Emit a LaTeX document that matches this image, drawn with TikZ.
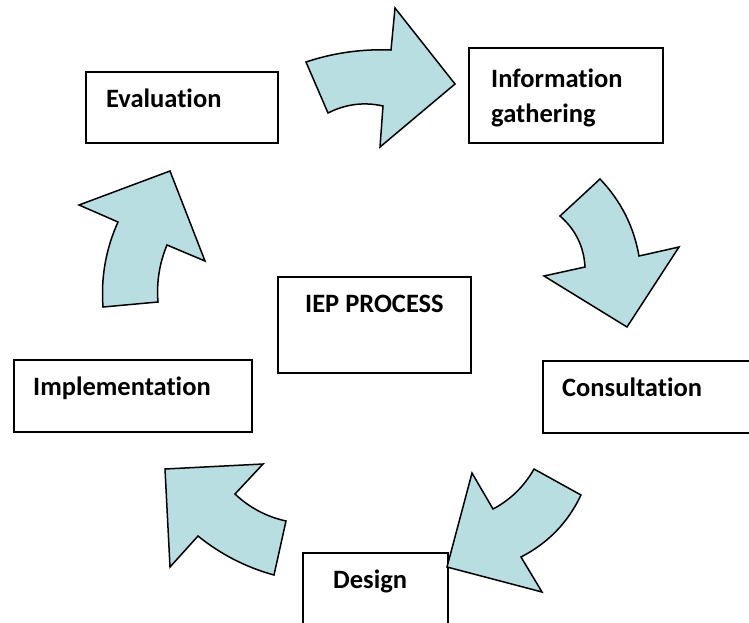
\documentclass[tikz,border=0pt]{standalone}
\usepackage{fontspec}
\setmainfont{Carlito}[Ligatures=NoCommon]
\definecolor{arrowfill}{RGB}{184,222,226}
\begin{document}
\begin{tikzpicture}[x=1pt,y=-1pt,
  box/.style={draw=black,line width=1.7pt,fill=white,inner sep=0pt,anchor=north west},
  lbl/.style={inner sep=0pt,anchor=base west,align=left,
    font=\fontsize{26.5}{35}\selectfont\bfseries},
  blockarrow/.style={fill=arrowfill,draw=black,line width=1.5pt,line join=miter}]
\useasboundingbox (0,0) rectangle (749,622);
\clip (0,0) rectangle (749,622);

% boxes
\node[box,minimum width=192pt,minimum height=71pt] (evalbox) at (85,71) {};
\node[box,minimum width=194pt,minimum height=95pt] (infobox) at (468,47) {};
\node[box,minimum width=193pt,minimum height=96pt] (iepbox) at (277,276) {};
\node[box,minimum width=238pt,minimum height=72pt] (implbox) at (13,359) {};
\node[box,minimum width=240pt,minimum height=72pt] (consbox) at (542,360) {};
\node[box,minimum width=145pt,minimum height=90pt] (desbox) at (302,552) {};

% labels (a two-line label is anchored at the baseline of its last line)
\node[lbl] (evaltext) at (106,107) {Evaluation};
\node[lbl] (infotext) at (491,122) {Information\\gathering};
\node[lbl] (ieptext) at (305,312) {IEP PROCESS};
\node[lbl] (impltext) at (33,395) {Implementation};
\node[lbl] (constext) at (562,396) {Consultation};
\node[lbl] (destext) at (333,588) {Design};

% curved block arrows around the cycle
\draw[blockarrow] (306,62) .. controls (333.6,52.8) and (362,48.8) .. (391,50)
  -- (395,8) -- (455,84) -- (380,147) -- (383,106)
  .. controls (363.9,101.7) and (345.5,104.1) .. (328,113) -- cycle;
\draw[blockarrow] (600,179) .. controls (620.8,200.8) and (633.8,226.4) .. (639,256)
  -- (679,247) -- (627,327) -- (544,276) -- (585,267)
  .. controls (583.9,246.5) and (575.5,229.5) .. (560,216) -- cycle;
\draw[blockarrow] (534,469) -- (581,495)
  .. controls (568,522.5) and (548,543.1) .. (521,557)
  -- (542,592) -- (447,567) -- (472,473) -- (493,509)
  .. controls (510.6,499.7) and (524.2,486.3) .. cycle;
\draw[blockarrow] (165,469) -- (263,464) -- (235,494)
  .. controls (249.5,507.7) and (266.5,516.7) .. (286,521)
  -- (274,575) .. controls (246,567.3) and (220.6,554.3) .. (198,536)
  -- (170,567) -- cycle;
\draw[blockarrow] (170,171) -- (205,261) -- (167,245)
  .. controls (159.4,263.3) and (156.4,282.3) .. (158,302)
  -- (103,307) .. controls (100.8,277.4) and (105.8,249) .. (118,222)
  -- (79,205) -- cycle;
\end{tikzpicture}
\end{document}
